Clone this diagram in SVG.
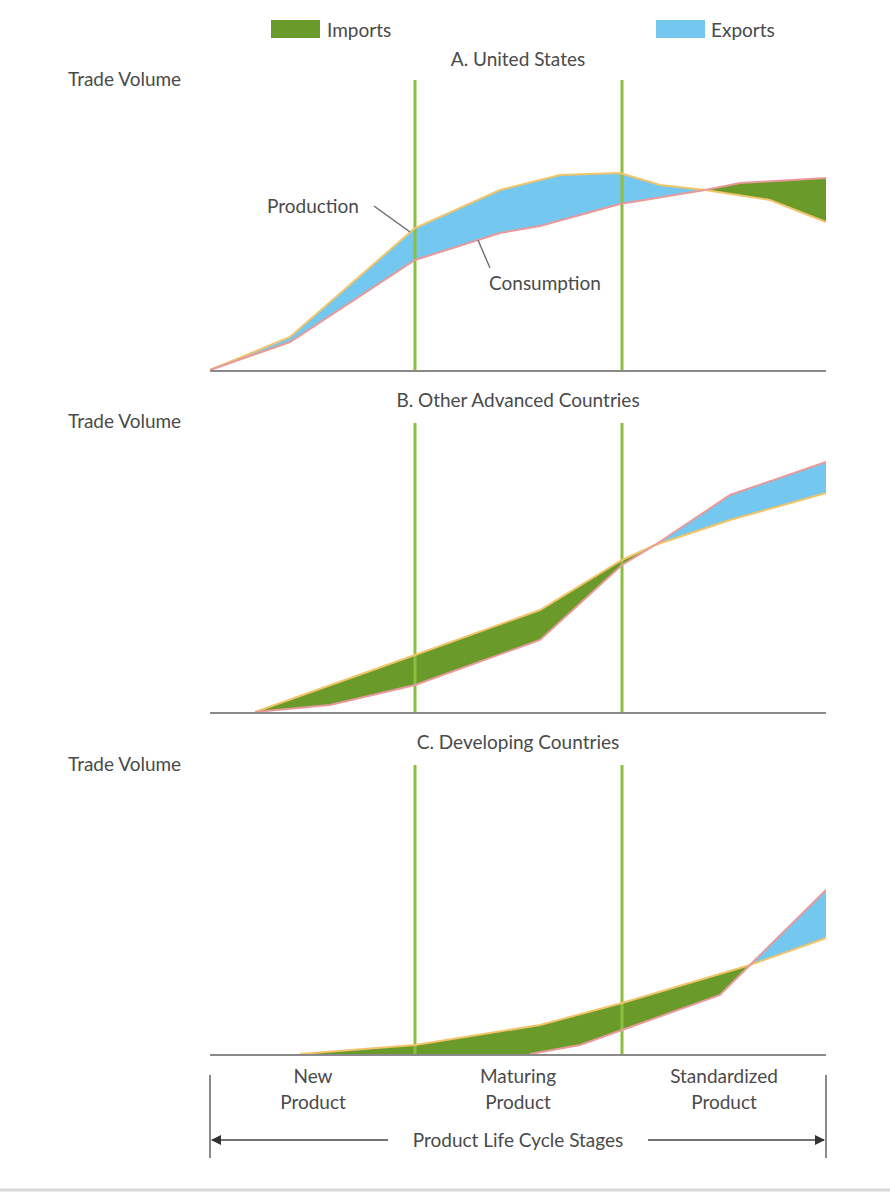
<svg xmlns="http://www.w3.org/2000/svg" width="890" height="1200" viewBox="0 0 890 1200">
<style>
text{font-family:"Lato","Liberation Sans",sans-serif;fill:#4a4a4a;font-size:19px}
.c{text-anchor:middle}
.base{stroke:#8a8a8a;stroke-width:2}
.vl{stroke:#8cbf3f;stroke-width:3}
.exp{fill:#74c8f0}
.imp{fill:#6a9a2a}
.pr{fill:none;stroke:#f2c46a;stroke-width:2}
.co{fill:none;stroke:#e89a9a;stroke-width:2}
.lead{stroke:#666;stroke-width:1.3}
</style>
<defs><marker id="ah" markerWidth="10" markerHeight="10" refX="9" refY="5" orient="auto-start-reverse" markerUnits="userSpaceOnUse"><path d="M0,0L10,5L0,10z" fill="#333"/></marker></defs>
<rect width="890" height="1200" fill="#fff"/>
<line x1="0" y1="1190" x2="890" y2="1190" stroke="#d8d8d8" stroke-width="3"/>
<g id="legend">
<rect x="271" y="20" width="49" height="18" class="imp"/><text x="327" y="37">Imports</text>
<rect x="656" y="20" width="49" height="18" class="exp"/><text x="711" y="37">Exports</text>
</g>
<g id="panelA">
<text x="68" y="86">Trade Volume</text>
<text x="518" y="66" class="c">A. United States</text>
<path class="exp" d="M210,370 L290,337 L415,228 L500,190 L560,175 L620,173 L660,185 L705,190 L620,204 L540,226 L500,233 L415,260 L290,342 Z"/>
<path class="imp" d="M705,190 L740,183 L826,178 L826,222 L770,200 Z"/>
<line class="vl" x1="415" y1="80" x2="415" y2="370"/><line class="vl" x1="622" y1="80" x2="622" y2="370"/>
<path class="pr" d="M210,370 L290,337 L415,228 L500,190 L560,175 L620,173 L660,185 L705,190 L770,200 L826,222"/>
<path class="co" d="M210,370 L290,342 L415,260 L500,233 L540,226 L620,204 L705,190 L740,183 L826,178"/>
<line class="base" x1="210" y1="371" x2="826" y2="371"/>
<text x="267" y="213">Production</text><line class="lead" x1="374" y1="206" x2="410" y2="232"/>
<text x="489" y="290">Consumption</text><line class="lead" x1="478" y1="240" x2="490" y2="268"/>
</g>
<g id="panelB">
<text x="68" y="428">Trade Volume</text>
<text x="518" y="407" class="c">B. Other Advanced Countries</text>
<path class="imp" d="M255,712 L415,655 L540,610 L622,560 L655,545 L622,565 L540,640 L415,685 L330,705 Z"/>
<path class="exp" d="M655,545 L730,495 L826,462 L826,493 L730,520 Z"/>
<line class="vl" x1="415" y1="423" x2="415" y2="712"/><line class="vl" x1="622" y1="423" x2="622" y2="712"/>
<path class="pr" d="M255,712 L415,655 L540,610 L622,560 L655,545 L730,520 L826,493"/>
<path class="co" d="M255,712 L330,705 L415,685 L540,640 L622,565 L655,545 L730,495 L826,462"/>
<line class="base" x1="210" y1="713" x2="826" y2="713"/>
</g>
<g id="panelC">
<text x="68" y="771">Trade Volume</text>
<text x="518" y="749" class="c">C. Developing Countries</text>
<path class="imp" d="M300,1054 L415,1045 L540,1025 L622,1003 L750,965 L720,995 L622,1030 L580,1045 L530,1054 Z"/>
<path class="exp" d="M750,965 L826,890 L826,938 Z"/>
<line class="vl" x1="415" y1="765" x2="415" y2="1054"/><line class="vl" x1="622" y1="765" x2="622" y2="1054"/>
<path class="pr" d="M300,1054 L415,1045 L540,1025 L622,1003 L750,965 L826,938"/>
<path class="co" d="M530,1054 L580,1045 L622,1030 L720,995 L750,965 L826,890"/>
<line class="base" x1="210" y1="1055" x2="826" y2="1055"/>
</g>
<g id="axis">
<text x="313" y="1083" class="c">New</text><text x="313" y="1109" class="c">Product</text>
<text x="518" y="1083" class="c">Maturing</text><text x="518" y="1109" class="c">Product</text>
<text x="724" y="1083" class="c">Standardized</text><text x="724" y="1109" class="c">Product</text>
<line class="base" x1="210" y1="1075" x2="210" y2="1158"/><line class="base" x1="826" y1="1075" x2="826" y2="1158"/>
<text x="518" y="1147" class="c">Product Life Cycle Stages</text>
</g>
<g id="connectors">
<line x1="388" y1="1140" x2="212" y2="1140" stroke="#444" stroke-width="1.5" marker-end="url(#ah)"/>
<line x1="648" y1="1140" x2="824" y2="1140" stroke="#444" stroke-width="1.5" marker-end="url(#ah)"/>
</g>
</svg>
